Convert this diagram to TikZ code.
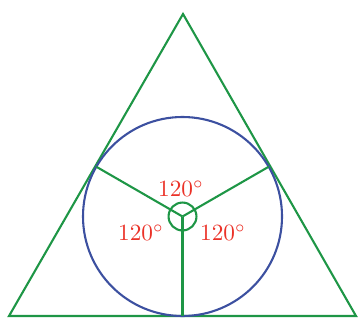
\documentclass[tikz,border=0pt]{standalone}
\usepackage{tikz}
\usetikzlibrary{calc}
\definecolor{trigreen}{RGB}{30,150,70}
\definecolor{circblue}{RGB}{60,80,160}
\definecolor{anglered}{RGB}{235,50,40}

\begin{document}
\begin{tikzpicture}[x=0.43pt, y=0.43pt, line width=0.9pt,
  side/.style={draw=trigreen, line join=miter},
  hub/.style={draw=trigreen, circle, minimum size=12pt, inner sep=0pt},
  ang/.style={text=anglered, inner sep=0pt}]
\useasboundingbox (0,0) rectangle (363,322);
% triangle
\coordinate (A) at (183,308);
\coordinate (B) at (9,6);
\coordinate (C) at (356,6);
\draw[side] (A) -- (B) -- (C) -- cycle;
% incircle and its centre
\coordinate (O) at (182.5,105.5);
\draw[circblue] (O) circle[radius=99.5];
\node[hub] (o) at (O) {};
\coordinate (tl) at ($(O)+(150:99.5)$);
\coordinate (tr) at ($(O)+(30:99.5)$);
\coordinate (tb) at ($(O)+(270:99.5)$);
\foreach \t in {tl,tr,tb} {\draw[trigreen] (o.center) -- (\t);}
% angles
\node[ang] (a1) at (181,133) {120$^\circ$};
\node[ang] (a2) at (141,89) {120$^\circ$};
\node[ang] (a3) at (223,89) {120$^\circ$};
\end{tikzpicture}
\end{document}
